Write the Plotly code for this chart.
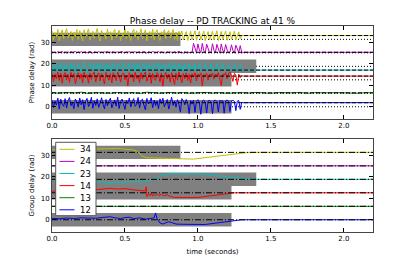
import numpy as np
import plotly.graph_objects as go

# ---------------- data ----------------
pairs = ["34", "24", "23", "14", "13", "12"]
pair_colors = ["#bfbf00", "#bf00bf", "#00bfbf", "#ff0000", "#008000", "#0000ff"]
offsets = [31.42, 25.13, 18.85, 12.57, 6.28, 0.0]          # k * 2pi offsets
phase_means = [33.2, 25.4, 17.1, 14.3, 6.5, 1.9]           # dashed reference levels
band_end = [0.88, None, 1.40, 1.23, None, 1.23]           # grey tolerance bands (time)
band_half = 3.14

dt = 0.01  # sample period of the phase traces (s)

phase_34 = [35.4, 31.2, 34.6, 32.5, 36.1, 30.8, 33.9, 35.8, 31.7, 34.2, 36.4, 32.0, 33.4, 35.1, 30.9, 34.8, 32.7, 36.0, 31.4, 35.5,
            33.0, 30.7, 35.9, 32.3, 34.4, 36.3, 31.1, 33.7, 35.2, 31.9, 34.9, 36.5, 32.6, 30.6, 35.6, 33.2, 34.1, 31.5, 36.2, 32.9,
            35.0, 31.0, 34.5, 36.0, 32.2, 33.6, 35.7, 30.8, 34.3, 32.8, 36.4, 31.6, 35.3, 33.1, 30.9, 34.7, 36.1, 32.4, 35.4, 31.3,
            33.8, 36.3, 31.8, 34.0, 35.8, 30.7, 33.5, 35.1, 32.1, 36.2, 31.2, 34.6, 35.9, 32.5, 30.9, 35.0, 33.3, 36.0, 31.7, 34.4,
            35.6, 32.0, 33.9, 36.1, 31.4, 34.8, 30.8, 35.2,
            33.4, 35.3, 31.2, 33.6, 35.0, 30.9, 33.5, 35.2, 31.3, 33.7, 35.4, 31.0, 33.4, 35.1, 31.4, 33.6, 35.3, 30.8, 33.5, 35.0,
            31.2, 33.8, 35.2, 31.1, 33.4, 35.4, 30.9, 33.6, 35.1, 31.3, 33.5, 35.3, 31.0, 33.7, 35.0, 31.5, 33.4, 35.2, 31.2, 33.6,
            34.9, 31.8, 33.2]

phase_24 = [25.6, 25.2, 25.5, 25.1, 25.7, 25.3, 25.4, 25.8, 25.2, 25.5, 25.0, 25.6, 25.3, 25.7, 25.2, 25.4, 25.8, 25.1, 25.5, 25.3,
            25.7, 25.2, 25.4, 25.6, 25.1, 25.5, 25.8, 25.3, 25.0, 25.6, 25.4, 25.2, 25.7, 25.3, 25.5, 25.1, 25.6, 25.4, 25.8, 25.2,
            25.5, 25.3, 25.7, 25.0, 25.4, 25.6, 25.2, 25.5, 25.8, 25.3, 25.1, 25.6, 25.4, 25.7, 25.2, 25.5, 25.3, 25.8, 25.1, 25.4,
            25.6, 25.2, 25.5, 25.7, 25.3, 25.0, 25.6, 25.4, 25.2, 25.8, 25.5, 25.1, 25.4, 25.7, 25.3, 25.6, 25.2, 25.5, 25.0, 25.7,
            25.3, 25.6, 25.4, 25.1, 25.7, 25.2, 25.5, 25.8, 25.3, 25.4, 25.0, 25.6, 25.2, 25.5, 25.3, 25.4,
            25.3, 29.6, 26.8, 25.1, 29.3, 26.5, 25.2, 29.5, 26.2, 25.0, 29.2, 26.6, 25.1, 25.4, 29.4, 26.3, 25.2, 29.1, 26.7, 25.0,
            29.3, 26.4, 25.2, 29.0, 26.5, 25.1, 25.5, 28.9, 26.2, 25.0, 28.7, 26.4, 25.2, 28.5, 25.4]

phase_23 = [19.6, 16.0, 18.9, 20.4, 15.7, 18.2, 20.8, 16.6, 19.3, 17.4, 20.1, 15.9, 18.7, 20.6, 16.9, 19.8, 17.1, 15.5, 20.3, 18.0,
            16.4, 19.5, 20.9, 17.2, 15.8, 19.0, 20.5, 16.7, 18.4, 20.2, 15.6, 19.7, 17.6, 20.7, 16.2, 18.8, 19.9, 15.9, 20.4, 17.0,
            19.2, 16.5, 20.6, 18.1, 15.7, 19.4, 20.0, 16.8, 18.6, 20.8, 16.1, 19.1, 17.7, 20.3, 15.8, 18.9, 20.5, 16.3, 19.6, 17.3,
            20.1, 16.0, 18.5, 20.7, 15.6, 19.3, 17.8, 20.4, 16.6, 19.0, 20.2, 15.9, 18.3, 20.6, 16.9, 19.5, 17.4, 20.0, 16.2, 18.7,
            20.3, 15.8, 19.2, 17.5, 20.5, 16.4, 18.9, 20.1, 16.0, 19.4, 17.2, 20.4, 15.7, 18.6, 20.0, 16.8, 19.1, 17.0, 20.2, 16.3,
            17.3, 20.4, 16.8, 17.5, 16.9, 20.6, 17.2, 16.6, 17.4, 20.2, 16.9, 17.6, 17.0, 20.5, 16.7, 17.3, 17.1, 20.3, 16.8, 17.5,
            17.0, 20.1, 16.6, 17.4, 17.2, 20.4, 16.9, 17.3, 17.0, 19.8, 17.1]

phase_14 = [15.8, 11.8, 15.2, 13.1, 16.1, 12.2, 15.6, 11.0, 14.8, 15.9, 12.5, 15.1, 11.4, 16.0, 13.6, 15.5, 10.8, 14.2, 15.9, 12.9,
            15.3, 11.2, 16.1, 13.4, 14.9, 11.0, 15.7, 12.7, 15.2, 16.2, 11.6, 14.6, 15.8, 12.0, 15.5, 13.2, 10.6, 16.0, 14.0, 12.4,
            15.4, 11.1, 15.9, 13.8, 12.1, 16.2, 14.4, 11.5, 15.1, 15.7, 12.6, 14.7, 9.8, 15.9, 13.5, 15.3, 11.7, 16.1, 13.0, 14.5,
            11.3, 15.9, 12.8, 15.0, 16.2, 11.9, 14.1, 15.8, 10.9, 15.5, 13.3, 12.3, 15.9, 14.8, 11.6, 15.7, 9.6, 14.3, 16.0, 12.9,
            15.3, 11.4, 15.9, 13.7, 10.4, 15.6, 12.4, 16.1, 14.0, 11.2, 15.5, 13.1, 15.8, 12.2, 15.1, 11.0,
            15.4, 13.8, 15.9, 12.0, 15.2, 14.6, 15.8, 9.7, 15.0, 14.2, 15.6, 12.4, 15.1, 14.8, 15.7, 12.9, 15.3, 14.5, 15.9, 13.1,
            9.9, 15.2, 14.7, 16.0, 13.0, 15.4, 16.3, 14.4, 11.8, 15.6, 14.9, 10.1, 15.2, 13.6, 14.5]

phase_13 = [6.6, 6.3, 6.7, 6.4, 6.8, 6.2, 6.6, 6.5, 6.3, 6.7, 6.4, 6.6, 6.2, 6.8, 6.5,
            6.3, 6.7, 6.4, 6.6, 6.3, 6.5, 6.7, 6.4, 6.6, 6.3, 6.5, 6.6, 6.4, 6.7, 6.5,
            6.3, 6.6, 6.4, 6.5, 6.7, 6.3, 6.6, 6.4, 6.5, 6.6, 6.4, 6.5, 6.3, 6.6, 6.5]
phase_13_step = 0.05

phase_12 = [3.1, -0.4, 2.7, 0.8, 4.0, -1.1, 3.5, 1.2, 0.2, 3.8, -0.6, 2.9, 4.3, 0.5, 1.9, -0.9, 3.6, 2.2, -0.2, 4.1,
            0.9, 3.3, -1.3, 2.5, 3.9, 0.1, 1.6, 4.4, -0.7, 2.8, 0.6, 3.7, -0.3, 2.1, 4.2, 1.0, -1.0, 3.4, 0.4, 2.6,
            4.0, -0.5, 1.8, 3.2, 0.3, 4.5, -0.8, 2.4, 3.6, 0.7, -1.2, 3.0, 1.5, 4.1, -0.1, 2.3, 3.8, 0.2, 1.1, 4.3,
            -0.6, 2.9, 3.5, 0.8, -1.4, 3.9, 1.3, 2.0, 4.2, -0.4, 3.1, 0.5, 2.7, -0.9, 3.7, 1.6, 4.0, 0.0, 2.2, 3.4,
            -1.1, 1.9, 4.4, 0.6, 2.6, -0.2, 3.3, 1.0, -2.5, 3.8,
            2.8, 0.9, 3.4, 1.7, -3.2, 2.9, 1.2, 3.1, -2.6, 2.6, 3.3, 1.8, -3.5, 2.7, 3.2, 2.1, -2.9, 2.8, 3.0, 2.2,
            -3.3, 2.9, 3.1, 2.4, -2.4, 3.0, 2.6, 2.9, -3.0, 2.7, 3.2, 2.3, -2.2, 2.8, 3.0, 2.5, -1.8, 2.6, 2.9, -1.2, 2.0]

t_end = 2.2

# group delay traces (time, value)
gd_t_34 = [0, 0.1, 0.2, 0.3, 0.35, 0.4, 0.45, 0.5, 0.55, 0.58, 0.6, 0.62, 0.65, 0.7, 0.8, 0.9, 0.97, 1.35, 2.2]
gd_34 = [32.6, 32.8, 33.0, 33.1, 33.3, 33.4, 33.2, 32.9, 32.6, 32.0, 30.8, 29.6, 28.9, 28.7, 28.6, 28.4, 28.3, 31.42, 31.42]
gd_t_24 = [0, 2.2]
gd_24 = [25.13, 25.13]
gd_t_23 = [0, 0.05, 0.1, 0.15, 0.2, 0.25, 0.3, 0.35, 0.4, 0.45, 0.5, 0.55, 0.6, 0.65, 0.68, 0.7, 0.72, 0.74, 0.76, 0.8,
           0.85, 0.9, 0.95, 1.0, 1.05, 1.1, 1.15, 1.2, 1.25, 1.3, 1.35, 1.4, 2.2]
gd_23 = [18.6, 18.3, 18.7, 18.4, 18.0, 18.5, 18.2, 17.4, 17.3, 17.6, 17.5, 17.8, 17.6, 18.1, 18.4, 18.9, 19.6, 20.6, 21.1, 21.3,
         21.5, 21.4, 21.5, 21.4, 21.2, 20.9, 20.5, 20.0, 19.6, 19.3, 19.1, 18.85, 18.85]
gd_t_14 = [0, 0.05, 0.1, 0.15, 0.2, 0.25, 0.3, 0.35, 0.4, 0.45, 0.5, 0.55, 0.6, 0.64, 0.645, 0.65, 0.66, 0.67, 0.68, 0.69,
           0.70, 0.71, 0.72, 0.73, 0.75, 0.77, 0.79, 0.81, 0.84, 0.9, 1.0, 1.25, 2.2]
gd_14 = [13.3, 13.5, 13.4, 13.7, 13.9, 13.8, 14.0, 14.4, 14.6, 14.3, 14.5, 14.0, 13.6, 13.4, 15.3, 10.8, 12.0, 11.2, 12.4, 11.0,
         11.8, 11.3, 12.0, 11.4, 11.8, 11.2, 11.6, 10.9, 10.4, 10.3, 10.4, 12.57, 12.57]
gd_t_13 = [0, 2.2]
gd_13 = [6.28, 6.28]
gd_t_12 = [0, 0.05, 0.1, 0.15, 0.2, 0.25, 0.3, 0.35, 0.4, 0.43, 0.47, 0.5, 0.53, 0.56, 0.6, 0.64, 0.68, 0.70, 0.71, 0.72,
           0.74, 0.76, 0.78, 0.80, 0.82, 0.85, 0.9, 1.0, 1.05, 1.3, 2.2]
gd_12 = [0.6, 0.5, 0.8, 0.6, 0.9, 0.7, 0.7, 1.1, 1.4, 0.9, 0.6, 1.0, 1.2, 0.5, 0.9, 0.3, 0.6, 0.9, 3.2, 0.5,
         -1.5, -2.0, -1.4, -0.9, -1.3, -2.0, -2.1, -2.2, -2.2, 0.0, 0.0]

x_ticks = [0.0, 0.5, 1.0, 1.5, 2.0]
x_tick_text = ["0.0", "0.5", "1.0", "1.5", "2.0"]
y_ticks = [0, 10, 20, 30]
y_range = [-5.7, 37.65]
x_range = [0, 2.2]

title_text = "Phase delay -- PD TRACKING at 41 %"
ylabel_top = "Phase delay (rad)"
ylabel_bot = "Group delay (rad)"
xlabel = "time (seconds)"

# ---------------- figure ----------------
# The page body adds an 8px margin, so the figure is drawn 8px smaller and
# all page-pixel layout positions are shifted by that amount.
PAGE_W, PAGE_H, BODY = 415, 259, 8
W, H = PAGE_W - BODY, PAGE_H - BODY
AX_L, AX_R = 52, 373              # page px of axes edges
TOP_T, TOP_B, BOT_T, BOT_B = 26, 119, 139, 232
ML, MR = AX_L - BODY, W - (AX_R - BODY)
MT, MB = TOP_T - BODY, H - (BOT_B - BODY)
PW, PH = W - ML - MR, H - MT - MB
top_dom = [(BOT_B - TOP_B) / PH, 1.0]
bot_dom = [0.0, (BOT_B - BOT_T) / PH]

FONT = "DejaVu Sans"
fig = go.Figure()

phase_series = [phase_34, phase_24, phase_23, phase_14, phase_13, phase_12]
gd_times = [gd_t_34, gd_t_24, gd_t_23, gd_t_14, gd_t_13, gd_t_12]
gd_series = [gd_34, gd_24, gd_23, gd_14, gd_13, gd_12]

for name, col, vals, mean in zip(pairs, pair_colors, phase_series, phase_means):
    step = phase_13_step if name == "13" else dt
    t = [round(i * step, 3) for i in range(len(vals))]
    x = list(t)
    y = list(vals)
    if t[-1] < t_end:
        x += [t[-1] + dt, t_end]
        y += [mean, mean]
    fig.add_trace(go.Scatter(x=x, y=y, mode="lines", line=dict(color=col, width=1),
                             xaxis="x", yaxis="y", showlegend=False, hoverinfo="skip"))

for name, col, t, vals in zip(pairs, pair_colors, gd_times, gd_series):
    fig.add_trace(go.Scatter(x=t, y=vals, mode="lines", line=dict(color=col, width=1),
                             xaxis="x2", yaxis="y2", showlegend=False, hoverinfo="skip"))

shapes = []
# dotted offset lines (top), under grey bands
for off in offsets:
    shapes.append(dict(type="line", xref="x domain", yref="y", x0=0, x1=1, y0=off, y1=off,
                       line=dict(color="black", width=1, dash="1px,2px"), layer="below"))
# grey bands both panels
for off, xe in zip(offsets, band_end):
    if xe is None:
        continue
    for xr, yr in (("x", "y"), ("x2", "y2")):
        shapes.append(dict(type="rect", xref=xr, yref=yr, x0=0, x1=xe,
                           y0=off - band_half, y1=off + band_half,
                           fillcolor="#808080", line=dict(width=0), layer="below"))
# dashed mean lines (top)
for m in phase_means:
    shapes.append(dict(type="line", xref="x domain", yref="y", x0=0, x1=1, y0=m, y1=m,
                       line=dict(color="black", width=1, dash="4px,2px"), layer="above"))
# dash-dot offset lines (bottom)
for off in offsets:
    shapes.append(dict(type="line", xref="x2 domain", yref="y2", x0=0, x1=1, y0=off, y1=off,
                       line=dict(color="black", width=1, dash="6px,2px,1px,2px"), layer="above"))

# legend box drawn by hand (in bottom panel), positions in page px
def px_x(px):
    return (px - BODY - ML) / PW

def px_y(py):
    return (H - MB - (py - BODY)) / PH

shapes.append(dict(type="rect", xref="paper", yref="paper",
                   x0=px_x(55.7), x1=px_x(96), y0=px_y(215.7), y1=px_y(142.3),
                   fillcolor="white", line=dict(color="#555555", width=1), layer="above"))
annotations = []
for i, (name, col) in enumerate(zip(pairs, pair_colors)):
    py = 149.3 + i * 12.1
    shapes.append(dict(type="line", xref="paper", yref="paper", x0=px_x(59.5), x1=px_x(74.5),
                       y0=px_y(py), y1=px_y(py), line=dict(color=col, width=1), layer="above"))
    annotations.append(dict(x=px_x(92.5), y=px_y(py), xref="paper", yref="paper", text=name,
                            showarrow=False, xanchor="right", yanchor="middle",
                            font=dict(family=FONT, size=8.5, color="black")))

axis_common = dict(range=x_range, tickvals=x_ticks, ticktext=x_tick_text, ticks="inside", ticklen=4,
                   tickcolor="black", showline=True, linecolor="#444444", linewidth=1, mirror="ticks",
                   showgrid=False, zeroline=False, automargin=False,
                   tickfont=dict(family=FONT, size=7, color="black"))
yaxis_common = dict(range=y_range, tickvals=y_ticks, ticks="inside", ticklen=4, tickcolor="black",
                    showline=True, linecolor="#444444", linewidth=1, mirror="ticks",
                    showgrid=False, zeroline=False, automargin=False,
                    tickfont=dict(family=FONT, size=7, color="black"))

fig.update_layout(
    width=W, height=H,
    margin=dict(l=ML, r=MR, t=MT, b=MB, pad=0, autoexpand=False),
    paper_bgcolor="white", plot_bgcolor="white",
    showlegend=False,
    title=dict(text=title_text, x=(ML + PW / 2) / W, xanchor="center", y=1 - (20.5 - BODY) / H,
               yanchor="middle", font=dict(family=FONT, size=9, color="black")),
    xaxis=dict(axis_common, anchor="y", domain=[0, 1]),
    yaxis=dict(yaxis_common, anchor="x", domain=top_dom,
               title=dict(text=ylabel_top, font=dict(family=FONT, size=7, color="black"), standoff=5)),
    xaxis2=dict(axis_common, anchor="y2", domain=[0, 1],
                title=dict(text=xlabel, font=dict(family=FONT, size=7, color="black"), standoff=6)),
    yaxis2=dict(yaxis_common, anchor="x2", domain=bot_dom,
                title=dict(text=ylabel_bot, font=dict(family=FONT, size=7, color="black"), standoff=5)),
    shapes=shapes,
    annotations=annotations,
)

fig.write_html("out.html")
